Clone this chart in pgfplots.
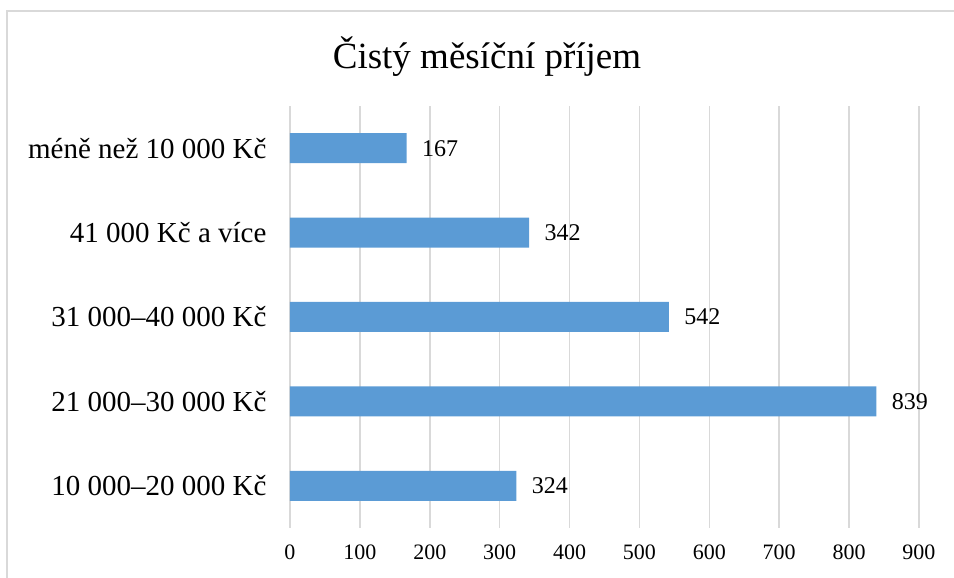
\documentclass[border=0pt]{standalone}
\usepackage{pgfplots}
\pgfplotsset{compat=1.18}
\usepackage{fontspec}
\setmainfont{Liberation Serif}
\definecolor{barblue}{HTML}{5B9BD5}
\definecolor{gridgray}{HTML}{D9D9D9}
\definecolor{framegray}{HTML}{D9D9D9}
\begin{document}
\begin{tikzpicture}[x=1pt,y=1pt]
\path[use as bounding box] (0,0) rectangle (954,578);
\draw[framegray, line width=1.2pt] (7,0) -- (7,567) -- (954,567);
\node[anchor=center, font=\fontsize{37}{42}\selectfont] at (487,521) {Čistý měsíční příjem};
\begin{axis}[
  at={(290pt,50pt)}, anchor=south west,
  scale only axis, width=629pt, height=422pt,
  xbar, bar width=30pt,
  xmin=0, xmax=900, ymin=-0.5, ymax=4.5,
  xtick={0,100,...,900},
  ytick={0,1,2,3,4},
  yticklabels={10 000–20 000 Kč, 21 000–30 000 Kč, 31 000–40 000 Kč, 41 000 Kč a více, méně než 10 000 Kč},
  axis line style={draw=none},
  major tick length=0pt,
  xmajorgrids, grid style={gridgray, line width=1.5pt},
  /pgf/number format/assume math mode=true,
  /pgf/number format/1000 sep={},
  xticklabel style={font=\fontsize{22}{25}\selectfont, yshift=-13pt},
  yticklabel style={font=\fontsize{29}{33}\selectfont, xshift=-20pt},
  nodes near coords,
  nodes near coords style={font=\fontsize{24}{27}\selectfont, black, xshift=12pt},
  clip=false,
]
\addplot[fill=barblue, draw=none] coordinates {(324,0) (839,1) (542,2) (342,3) (167,4)};
\end{axis}
\end{tikzpicture}
\end{document}
